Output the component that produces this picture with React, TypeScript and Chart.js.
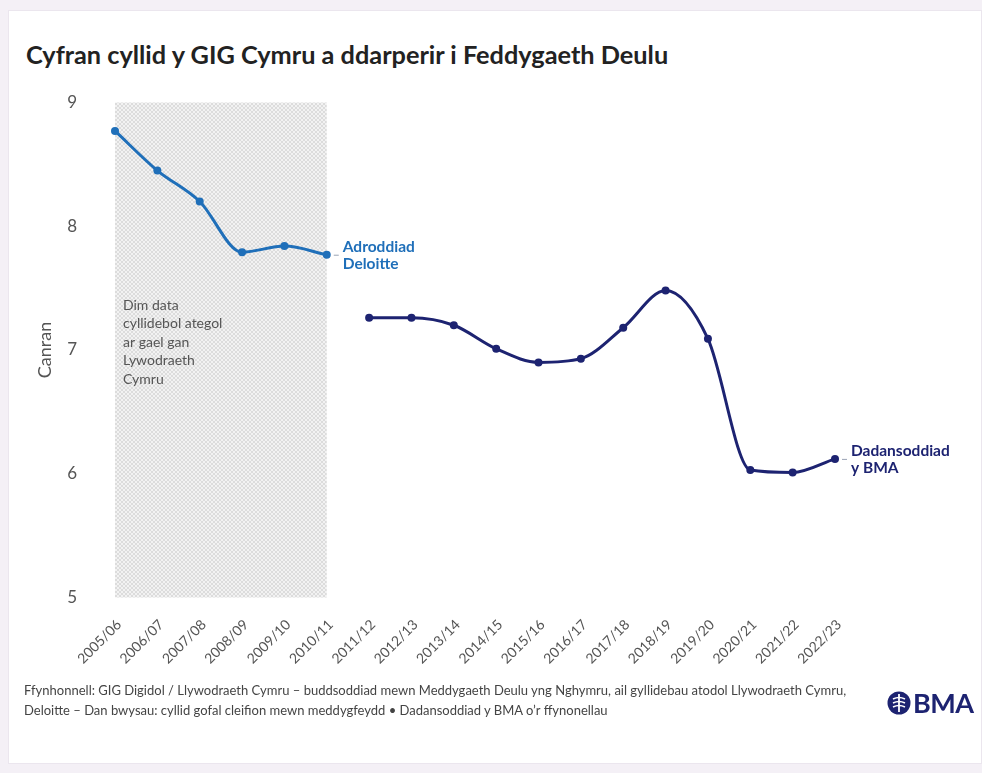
import React, { useEffect, useRef } from "react";
import { Chart, registerables } from "chart.js";

Chart.register(...registerables);

const years = [
  "2005/06", "2006/07", "2007/08", "2008/09", "2009/10", "2010/11",
  "2011/12", "2012/13", "2013/14", "2014/15", "2015/16", "2016/17",
  "2017/18", "2018/19", "2019/20", "2020/21", "2021/22", "2022/23",
];
const deloitteValues = [8.77, 8.45, 8.2, 7.79, 7.84, 7.77, null, null, null, null, null, null, null, null, null, null, null, null];
const bmaValues = [null, null, null, null, null, null, 7.26, 7.26, 7.2, 7.01, 6.9, 6.93, 7.18, 7.48, 7.09, 6.03, 6.01, 6.12];
const yMin = 5;
const yMax = 9;
const shadedFromIndex = 0;
const shadedToIndex = 5;
const noDataLines = ["Dim data", "cyllidebol ategol", "ar gael gan", "Lywodraeth", "Cymru"];
const noDataStartValue = 7.36;
const deloitteLabel = ["Adroddiad", "Deloitte"];
const bmaLabel = ["Dadansoddiad", "y BMA"];
const titleText = "Cyfran cyllid y GIG Cymru a ddarperir i Feddygaeth Deulu";
const yTitle = "Canran";
const sourceLines = [
  "Ffynhonnell: GIG Digidol / Llywodraeth Cymru – buddsoddiad mewn Meddygaeth Deulu yng Nghymru, ail gyllidebau atodol Llywodraeth Cymru,",
  "Deloitte – Dan bwysau: cyllid gofal cleifion mewn meddygfeydd • Dadansoddiad y BMA o’r ffynonellau",
];

const BLUE = "#1f6fb9";
const NAVY = "#1d2371";
const FONT = "Lato, 'Open Sans', sans-serif";

function makePattern(): CanvasPattern | string {
  const c = document.createElement("canvas");
  c.width = 4;
  c.height = 4;
  const g = c.getContext("2d");
  if (!g) return "#ececec";
  g.fillStyle = "#f2f2f2";
  g.fillRect(0, 0, 4, 4);
  g.fillStyle = "#dcdcdc";
  for (let i = 0; i < 4; i++) {
    g.fillRect(i, i, 1, 1);
    g.fillRect(3 - i, i, 1, 1);
  }
  const p = g.createPattern(c, "repeat");
  return p || "#ececec";
}

export default function App() {
  const canvasRef = useRef<HTMLCanvasElement | null>(null);

  useEffect(() => {
    document.body.style.margin = "0";
    const canvas = canvasRef.current;
    if (!canvas) return;
    const pattern = makePattern();

    const overlay = {
      id: "overlay",
      beforeDatasetsDraw(chart: any) {
        const { ctx, chartArea, scales } = chart;
        const x = scales.x;
        const y = scales.y;
        const x0 = x.getPixelForValue(shadedFromIndex);
        const x1 = x.getPixelForValue(shadedToIndex);
        ctx.save();
        ctx.fillStyle = pattern;
        ctx.fillRect(x0, chartArea.top, x1 - x0, chartArea.bottom - chartArea.top);
        ctx.fillStyle = "#555";
        ctx.font = `14px ${FONT}`;
        ctx.textBaseline = "middle";
        ctx.textAlign = "left";
        const startY = y.getPixelForValue(noDataStartValue);
        noDataLines.forEach((l, i) => ctx.fillText(l, x0 + 8, startY + i * 18.5));
        ctx.restore();
      },
      afterDatasetsDraw(chart: any) {
        const { ctx, scales } = chart;
        const x = scales.x;
        const y = scales.y;
        const drawLabel = (idx: number, val: number, lines: string[], color: string) => {
          const px = x.getPixelForValue(idx);
          const py = y.getPixelForValue(val);
          ctx.save();
          ctx.strokeStyle = "#9aa3b5";
          ctx.lineWidth = 1;
          ctx.beginPath();
          ctx.moveTo(px + 7, py + 0.5);
          ctx.lineTo(px + 12, py + 0.5);
          ctx.stroke();
          ctx.fillStyle = color;
          ctx.font = `bold 15.5px ${FONT}`;
          ctx.textBaseline = "middle";
          ctx.textAlign = "left";
          ctx.fillText(lines[0], px + 16, py - 7.5);
          ctx.fillText(lines[1], px + 16, py + 9);
          ctx.restore();
        };
        drawLabel(shadedToIndex, deloitteValues[shadedToIndex] as number, deloitteLabel, BLUE);
        const last = bmaValues.length - 1;
        drawLabel(last, bmaValues[last] as number, bmaLabel, NAVY);
      },
    };

    const chart = new Chart(canvas, {
      type: "line",
      data: {
        labels: years,
        datasets: [
          {
            label: "Adroddiad Deloitte",
            data: deloitteValues,
            borderColor: BLUE,
            backgroundColor: BLUE,
            borderWidth: 3,
            pointRadius: 4,
            pointBorderWidth: 0,
            cubicInterpolationMode: "monotone",
            spanGaps: false,
          },
          {
            label: "Dadansoddiad y BMA",
            data: bmaValues,
            borderColor: NAVY,
            backgroundColor: NAVY,
            borderWidth: 3,
            pointRadius: 4,
            pointBorderWidth: 0,
            cubicInterpolationMode: "monotone",
            spanGaps: false,
          },
        ],
      },
      options: {
        responsive: false,
        animation: false,
        layout: { padding: { left: 0, right: 147, top: 102.5, bottom: 95.5 } },
        plugins: {
          legend: { display: false },
          tooltip: { enabled: false },
          title: { display: false },
        },
        scales: {
          x: {
            grid: { display: false, drawTicks: false },
            border: { display: false },
            ticks: {
              autoSkip: false,
              maxRotation: 45,
              minRotation: 45,
              padding: 19,
              labelOffset: 4,
              color: "#555",
              font: { family: FONT, size: 14 },
            },
            afterFit: (s: any) => { s.height = 80; },
          },
          y: {
            min: yMin,
            max: yMax,
            grid: { display: false, drawTicks: false },
            border: { display: false },
            ticks: {
              stepSize: 1,
              padding: 38,
              color: "#555",
              font: { family: FONT, size: 17 },
            },
            title: {
              display: true,
              text: yTitle,
              color: "#555",
              font: { family: FONT, size: 18 },
              padding: { top: 34, bottom: 0 },
            },
            afterFit: (s: any) => { s.width = 115; },
          },
        },
      },
      plugins: [overlay],
    });
    return () => chart.destroy();
  }, []);

  return (
    <div style={{ position: "relative", width: 982, height: 773, background: "#f4f0f6", overflow: "hidden", fontFamily: FONT }}>
      <div style={{ position: "absolute", left: 8, top: 10, width: 974, height: 754, background: "#fff", border: "1px solid #ebe6ee", boxSizing: "border-box" }} />
      <div style={{ position: "absolute", left: 26, top: 40, height: 28, lineHeight: "28px", fontSize: 25.3, fontWeight: 700, color: "#222", whiteSpace: "nowrap" }}>
        {titleText}
      </div>
      <canvas ref={canvasRef} width={982} height={773} style={{ position: "absolute", left: 0, top: 0, width: 982, height: 773 }} />
      <div style={{ position: "absolute", left: 24, top: 680, fontSize: 13, lineHeight: "20px", color: "#444", whiteSpace: "nowrap" }}>
        {sourceLines.map((l, i) => (<div key={i}>{l}</div>))}
      </div>
      <div style={{ position: "absolute", left: 887, top: 689, height: 28, display: "flex", alignItems: "center", color: NAVY }}>
        <svg width="24" height="24" viewBox="0 0 24 24" style={{ marginRight: 2 }}>
          <circle cx="12" cy="12" r="11.5" fill={NAVY} />
          <line x1="12" y1="3" x2="12" y2="21" stroke="#fff" strokeWidth="1.8" />
          <path d="M6 8 Q12 5 18 8 M6 12 Q12 9 18 12 M6 16 Q12 13 18 16" stroke="#fff" strokeWidth="1.6" fill="none" />
        </svg>
        <span style={{ fontSize: 27, fontWeight: 700, letterSpacing: -0.5, lineHeight: "28px" }}>BMA</span>
      </div>
    </div>
  );
}
